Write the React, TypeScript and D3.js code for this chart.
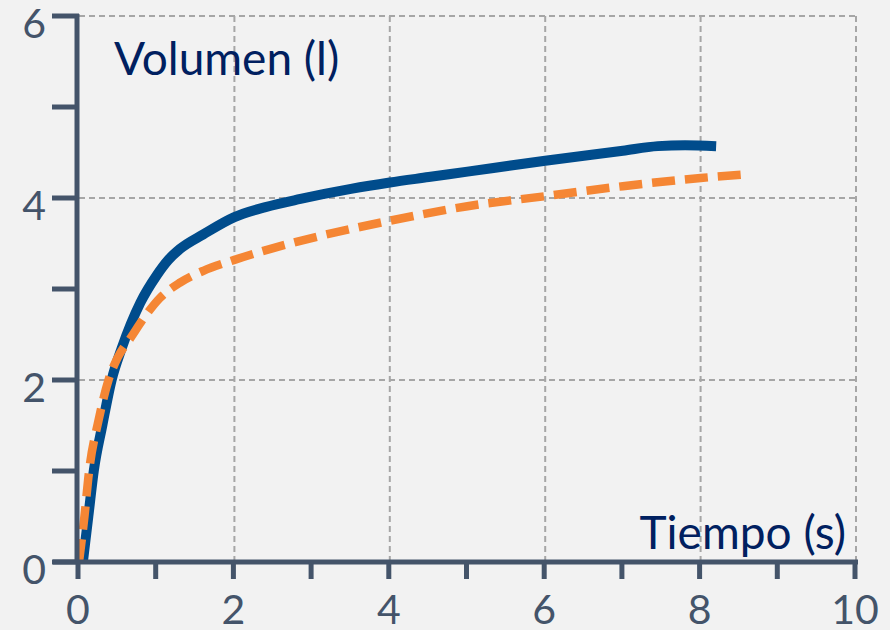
import React from "react";
import * as d3 from "d3";

const xTicks = [0, 2, 4, 6, 8, 10];
const xMinorTicks = [1, 3, 5, 7, 9];
const yTicks = [0, 2, 4, 6];
const yMinorTicks = [1, 3, 5];

const blueT = [0.05, 0.12, 0.19, 0.3, 0.42, 0.55, 0.79, 1.0, 1.15, 1.3, 1.6, 2.0, 2.4, 2.85, 3.5, 4.0, 4.5, 5.0, 6.0, 7.0, 7.45, 7.8, 8.2];
const blueV = [0, 0.5, 1.0, 1.5, 2.0, 2.35, 2.85, 3.15, 3.32, 3.44, 3.6, 3.79, 3.9, 3.99, 4.1, 4.17, 4.23, 4.29, 4.41, 4.52, 4.57, 4.58, 4.57];

const orangeT = [0.0, 0.07, 0.13, 0.25, 0.38, 0.5, 0.67, 0.85, 1.04, 1.3, 1.6, 2.0, 2.5, 2.85, 3.5, 4.0, 5.0, 6.0, 7.0, 8.0, 8.6];
const orangeV = [0, 0.5, 1.0, 1.55, 2.0, 2.25, 2.47, 2.7, 2.9, 3.07, 3.2, 3.32, 3.45, 3.53, 3.66, 3.75, 3.91, 4.02, 4.13, 4.22, 4.26];

const axisColor = "#44546a";
const gridColor = "#a6a6a6";
const titleColor = "#002060";

export default function App() {
  const W = 890, H = 630;
  const x = d3.scaleLinear().domain([0, 10]).range([79, 856]);
  const y = d3.scaleLinear().domain([0, 6]).range([562, 16]);
  const line = d3.line<[number, number]>().x(d => x(d[0])).y(d => y(d[1])).curve(d3.curveMonotoneX);
  const blue = line(blueT.map((t, i) => [t, blueV[i]]));
  const orange = line(orangeT.map((t, i) => [t, orangeV[i]]));
  const font = "Lato, 'Open Sans', sans-serif";
  return (
    <div style={{ position: "fixed", left: 0, top: 0, width: W, height: H, background: "#f2f2f2" }}>
      <svg width={W} height={H} style={{ display: "block" }}>
        <rect x={0} y={0} width={W} height={H} fill="#f2f2f2" />
        {xTicks.filter(v => v > 0).map(v => (
          <line key={"gx" + v} x1={x(v)} x2={x(v)} y1={y(6)} y2={y(0)} stroke={gridColor} strokeWidth={2} strokeDasharray="6,4" />
        ))}
        {yTicks.filter(v => v > 0).map(v => (
          <line key={"gy" + v} x1={x(0)} x2={x(10)} y1={y(v)} y2={y(v)} stroke={gridColor} strokeWidth={2} strokeDasharray="6,4" />
        ))}
        <path d={blue || ""} fill="none" stroke="#004c8c" strokeWidth={10} />
        <path d={orange || ""} fill="none" stroke="#f58634" strokeWidth={8.5} strokeDasharray="23,10" />
        <line x1={x(0) - 2} x2={x(0) - 2} y1={y(6) - 2} y2={y(0)} stroke={axisColor} strokeWidth={5} />
        <line x1={x(0) - 26} x2={x(10) + 2} y1={y(0)} y2={y(0)} stroke={axisColor} strokeWidth={5} />
        {[...yTicks, ...yMinorTicks].map(v => (
          <line key={"ty" + v} x1={x(0) - 27} x2={x(0)} y1={y(v)} y2={y(v)} stroke={axisColor} strokeWidth={5} />
        ))}
        {[...xTicks, ...xMinorTicks].map(v => (
          <line key={"tx" + v} x1={x(v) - 1} x2={x(v) - 1} y1={y(0)} y2={y(0) + 17} stroke={axisColor} strokeWidth={5} />
        ))}
        {yTicks.map(v => (
          <text key={"ly" + v} x={46} y={y(v) + 22} textAnchor="end" fill={axisColor} fontFamily={font} fontSize={41}>{v}</text>
        ))}
        {xTicks.map(v => (
          <text key={"lx" + v} x={x(v) - 1} y={624} textAnchor="middle" fill={axisColor} fontFamily={font} fontSize={41}>{v}</text>
        ))}
        <text x={114} y={75} fill={titleColor} fontFamily={font} fontSize={46}>Volumen (l)</text>
        <text x={846} y={549} textAnchor="end" fill={titleColor} fontFamily={font} fontSize={46}>Tiempo (s)</text>
      </svg>
    </div>
  );
}
